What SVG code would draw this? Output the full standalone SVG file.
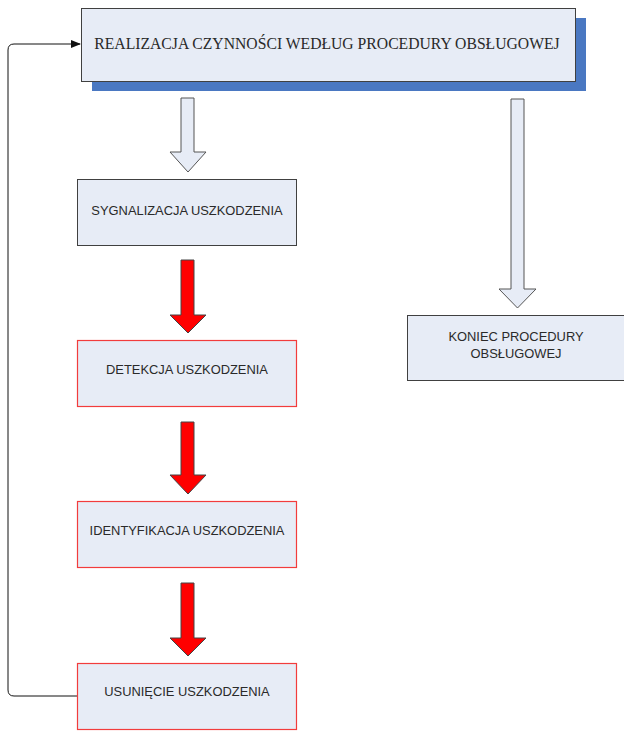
<svg xmlns="http://www.w3.org/2000/svg" width="624" height="731" viewBox="0 0 624 731">
<style>
.box{fill:#e7ecf6;stroke:#404040;stroke-width:1}
.rbox{fill:#e7ecf6;stroke:#f23c3c;stroke-width:1.2}
.harrow{fill:#e7ecf6;stroke:#555;stroke-width:1}
.rarrow{fill:#ff0000;stroke:#444;stroke-width:1}
.sans{font-family:"Liberation Sans",Arial,sans-serif;font-size:12.9px;fill:#2a2a2a;text-anchor:middle}
.serif{font-family:"Liberation Serif","Times New Roman",serif;font-size:15.7px;fill:#2a2a2a;text-anchor:middle}
.conn{fill:none;stroke:#111;stroke-width:1}
</style>
<defs>
<marker id="ah" markerWidth="10" markerHeight="8" refX="9" refY="4" orient="auto" markerUnits="userSpaceOnUse">
<path d="M0,0 L10,4 L0,8 Z" fill="#111"/>
</marker>
</defs>
<rect width="624" height="731" fill="#fff"/>
<g id="connectors">
<path class="conn" d="M77,696 H14 Q8,696 8,690 V50 Q8,44 14,44 H80" marker-end="url(#ah)"/>
<path id="arrow1" class="harrow" d="M181,98 H194 V152 H206 L188,172 L170,152 H181 Z"/>
<path id="arrow2" class="harrow" d="M511,99 H524 V289 H536 L517.5,308 L499,289 H511 Z"/>
<path id="arrow3" class="rarrow" d="M181,260 H194 V315 H206 L188,333 L170,315 H181 Z"/>
<path id="arrow4" class="rarrow" d="M181,422 H194 V475 H206 L188,494 L170,475 H181 Z"/>
<path id="arrow5" class="rarrow" d="M181,583 H194 V638 H206 L188,656 L170,638 H181 Z"/>
</g>
<g id="realizacja">
<rect x="92" y="18" width="494" height="73" fill="#4a78c2"/>
<rect class="box" x="81.5" y="8.5" width="494" height="73"/>
<text class="serif" x="327" y="49">REALIZACJA CZYNNOŚCI WEDŁUG PROCEDURY OBSŁUGOWEJ</text>
</g>
<g id="sygnalizacja">
<rect class="box" x="77.5" y="179.5" width="219" height="66"/>
<text class="sans" x="187" y="214.5">SYGNALIZACJA USZKODZENIA</text>
</g>
<g id="detekcja">
<rect class="rbox" x="77.5" y="340.5" width="219" height="66"/>
<text class="sans" x="187" y="373.5">DETEKCJA USZKODZENIA</text>
</g>
<g id="identyfikacja">
<rect class="rbox" x="77.5" y="501.5" width="219" height="66"/>
<text class="sans" x="187" y="535">IDENTYFIKACJA USZKODZENIA</text>
</g>
<g id="usuniecie">
<rect class="rbox" x="77.5" y="663.5" width="219" height="66"/>
<text class="sans" x="187" y="696">USUNIĘCIE USZKODZENIA</text>
</g>
<g id="koniec">
<rect class="box" x="407.5" y="315.5" width="218" height="65"/>
<text class="sans" x="516" y="340.5">KONIEC PROCEDURY</text>
<text class="sans" x="516" y="357.5">OBSŁUGOWEJ</text>
</g>
</svg>
